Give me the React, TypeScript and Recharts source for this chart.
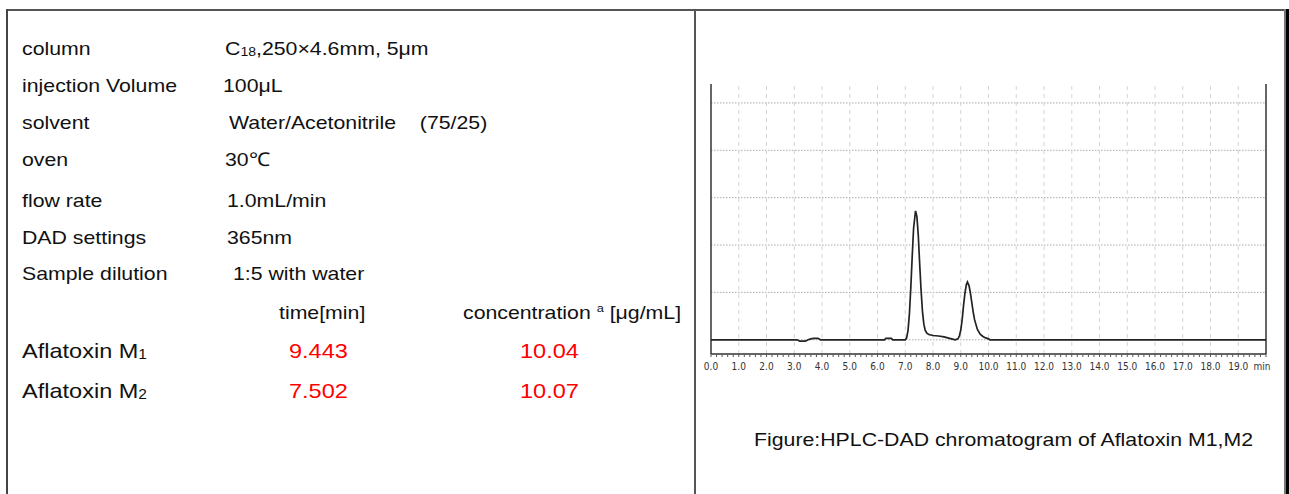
import React from "react";
import { LineChart, Line, XAxis, YAxis, ReferenceLine } from "recharts";

// chromatogram trace (time in min, signal in grid units)
const times = [
  0, 3.1, 3.2, 3.4, 3.5, 3.6, 3.7, 3.85, 3.95, 6.25, 6.3, 6.5, 6.55, 7.0, 7.05,
  7.1, 7.15, 7.2, 7.25, 7.3, 7.37, 7.42, 7.47, 7.52, 7.57, 7.62, 7.67, 7.72,
  7.78, 7.85, 8.0, 8.2, 8.4, 8.6, 8.8, 8.9, 8.95, 9.0, 9.05, 9.1, 9.15, 9.2,
  9.24, 9.3, 9.35, 9.4, 9.45, 9.5, 9.6, 9.7, 9.8, 9.9, 10.0, 10.05, 20,
];
const signal = [
  0, 0, -0.03, -0.03, 0, 0.02, 0.03, 0.03, 0, 0, 0.03, 0.03, 0, 0, 0.04, 0.2,
  0.55, 1.1, 1.75, 2.35, 2.72, 2.6, 2.2, 1.6, 1.05, 0.6, 0.33, 0.2, 0.14, 0.11,
  0.09, 0.08, 0.06, 0.03, 0, 0.02, 0.08, 0.2, 0.42, 0.72, 0.98, 1.16, 1.22,
  1.14, 0.98, 0.78, 0.58, 0.42, 0.22, 0.12, 0.07, 0.04, 0.02, 0, 0,
];

const majorTicks = [0, 1, 2, 3, 4, 5, 6, 7, 8, 9, 10, 11, 12, 13, 14, 15, 16, 17, 18, 19, 20];
const xLabels = [
  "0.0", "1.0", "2.0", "3.0", "4.0", "5.0", "6.0", "7.0", "8.0", "9.0", "10.0",
  "11.0", "12.0", "13.0", "14.0", "15.0", "16.0", "17.0", "18.0", "19.0", "min",
];
const gridLevels = [0, 1, 2, 3, 4, 5];

// table text ("|x|" = subscript, "^x^" = superscript)
const paramLabels = [
  "column", "injection Volume", "solvent", "oven", "flow rate", "DAD settings", "Sample dilution",
];
const paramValues = [
  "C|18|,250×4.6mm, 5μm", "100μL", "Water/Acetonitrile    (75/25)", "30℃",
  "1.0mL/min", "365nm", "1:5 with water",
];
const resultHeaders = ["time[min]", "concentration ^a^ [μg/mL]"];
const compounds = ["Aflatoxin M|1|", "Aflatoxin M|2|"];
const retentionTimes = ["9.443", "7.502"];
const concentrations = ["10.04", "10.07"];
const caption = "Figure:HPLC-DAD chromatogram of Aflatoxin M1,M2";

const data = times.map((t, i) => ({ t, v: signal[i] }));
const xTicks: number[] = [];
majorTicks.forEach((m) => {
  if (m === 20) xTicks.push(m);
  else for (let j = 0; j < 5; j++) xTicks.push(+(m + j * 0.2).toFixed(1));
});
const yTicks: number[] = [];
for (let k = -1; k <= 27; k++) yTicks.push(+(k * 0.2).toFixed(1));

const paramY = [48, 85, 122, 159, 200, 237, 273];
const paramX = [225, 223, 229, 225, 227, 227, 233];

function rich(s: string) {
  return s.split(/(\|[^|]*\||\^[^^]*\^)/).map((part, i) => {
    if (part.startsWith("|"))
      return (
        <span key={i} style={{ fontSize: "0.66em", position: "relative", top: "0.12em" }}>
          {part.slice(1, -1)}
        </span>
      );
    if (part.startsWith("^"))
      return (
        <span key={i} style={{ fontSize: "0.6em", position: "relative", top: "-0.55em" }}>
          {part.slice(1, -1)}
        </span>
      );
    return <span key={i}>{part}</span>;
  });
}

function Txt({ x, y, size, color = "#111", children }: any) {
  return (
    <span
      style={{
        position: "absolute",
        left: x,
        top: y - size / 2,
        fontSize: size,
        lineHeight: `${size}px`,
        color,
        whiteSpace: "pre",
        transform: "scaleX(1.12)",
        transformOrigin: "left center",
      }}
    >
      {children}
    </span>
  );
}

const XTick = (props: any) => {
  const { x, y, payload } = props;
  const idx = majorTicks.indexOf(payload.value);
  if (idx < 0) return null;
  const label = xLabels[idx];
  return (
    <text
      x={label === "min" ? x - 4 : x}
      y={y + 11}
      textAnchor="middle"
      fontSize={10}
      fill="#333"
      fontFamily="'Liberation Sans Narrow', 'DejaVu Sans Condensed', Arial, sans-serif"
    >
      {label}
    </text>
  );
};

const line = (x: number, y: number, w: number, h: number, bg: string) => (
  <div style={{ position: "absolute", left: x, top: y, width: w, height: h, background: bg }} />
);

export default function App() {
  return (
    <div
      style={{
        position: "absolute",
        left: 0,
        top: 0,
        width: 1289,
        height: 494,
        background: "#fff",
        overflow: "hidden",
        fontFamily: "'Liberation Sans', Arial, sans-serif",
      }}
    >
      {line(6, 9, 1280, 2, "#555")}
      {line(6, 9, 2, 485, "#444")}
      {line(694, 9, 2, 485, "#555")}
      {line(1284, 9, 2, 485, "#777")}
      {line(1286, 9, 3, 485, "#000")}

      {paramLabels.map((p, i) => (
        <Txt key={p} x={22} y={paramY[i]} size={19}>{p}</Txt>
      ))}
      {paramValues.map((p, i) => (
        <Txt key={p} x={paramX[i]} y={paramY[i]} size={19}>{rich(p)}</Txt>
      ))}
      <Txt x={279} y={312} size={19}>{resultHeaders[0]}</Txt>
      <Txt x={463} y={312} size={19}>{rich(resultHeaders[1])}</Txt>
      {compounds.map((c, i) => (
        <React.Fragment key={c}>
          <Txt x={22} y={350 + i * 40} size={21}>{rich(c)}</Txt>
          <Txt x={289} y={350 + i * 40} size={21} color="#ff0000">{retentionTimes[i]}</Txt>
          <Txt x={520} y={350 + i * 40} size={21} color="#ff0000">{concentrations[i]}</Txt>
        </React.Fragment>
      ))}
      <Txt x={754} y={439} size={19}>{caption}</Txt>

      <div style={{ position: "absolute", left: 0, top: 0 }}>
        <LineChart
          width={1289}
          height={494}
          data={data}
          margin={{ top: 84, right: 23, bottom: 110, left: 711 }}
        >
          <XAxis
            dataKey="t"
            type="number"
            domain={[0, 20]}
            ticks={xTicks}
            interval={0}
            height={30}
            tickSize={3}
            tickMargin={2}
            tick={<XTick />}
            axisLine={{ stroke: "#333", strokeWidth: 1.5 }}
            tickLine={{ stroke: "#555" }}
          />
          <YAxis
            type="number"
            domain={[-0.3, 5.4]}
            ticks={yTicks}
            interval={0}
            width={0}
            tickSize={3}
            tick={false}
            axisLine={{ stroke: "#333", strokeWidth: 1.5 }}
            tickLine={{ stroke: "#555" }}
            allowDataOverflow
          />
          {gridLevels.map((g) => (
            <ReferenceLine key={"h" + g} y={g} stroke="#aaa" strokeDasharray="1.5 1.5" />
          ))}
          {majorTicks.slice(1, -1).map((m) => (
            <ReferenceLine key={"v" + m} x={m} stroke="#d4d4d4" strokeDasharray="4 4" />
          ))}
          <ReferenceLine x={0} stroke="#333" strokeWidth={1.5} />
          <ReferenceLine x={20} stroke="#333" strokeWidth={1.5} />
          <Line
            type="linear"
            dataKey="v"
            stroke="#222"
            strokeWidth={1.7}
            dot={false}
            isAnimationActive={false}
          />
        </LineChart>
      </div>
    </div>
  );
}
